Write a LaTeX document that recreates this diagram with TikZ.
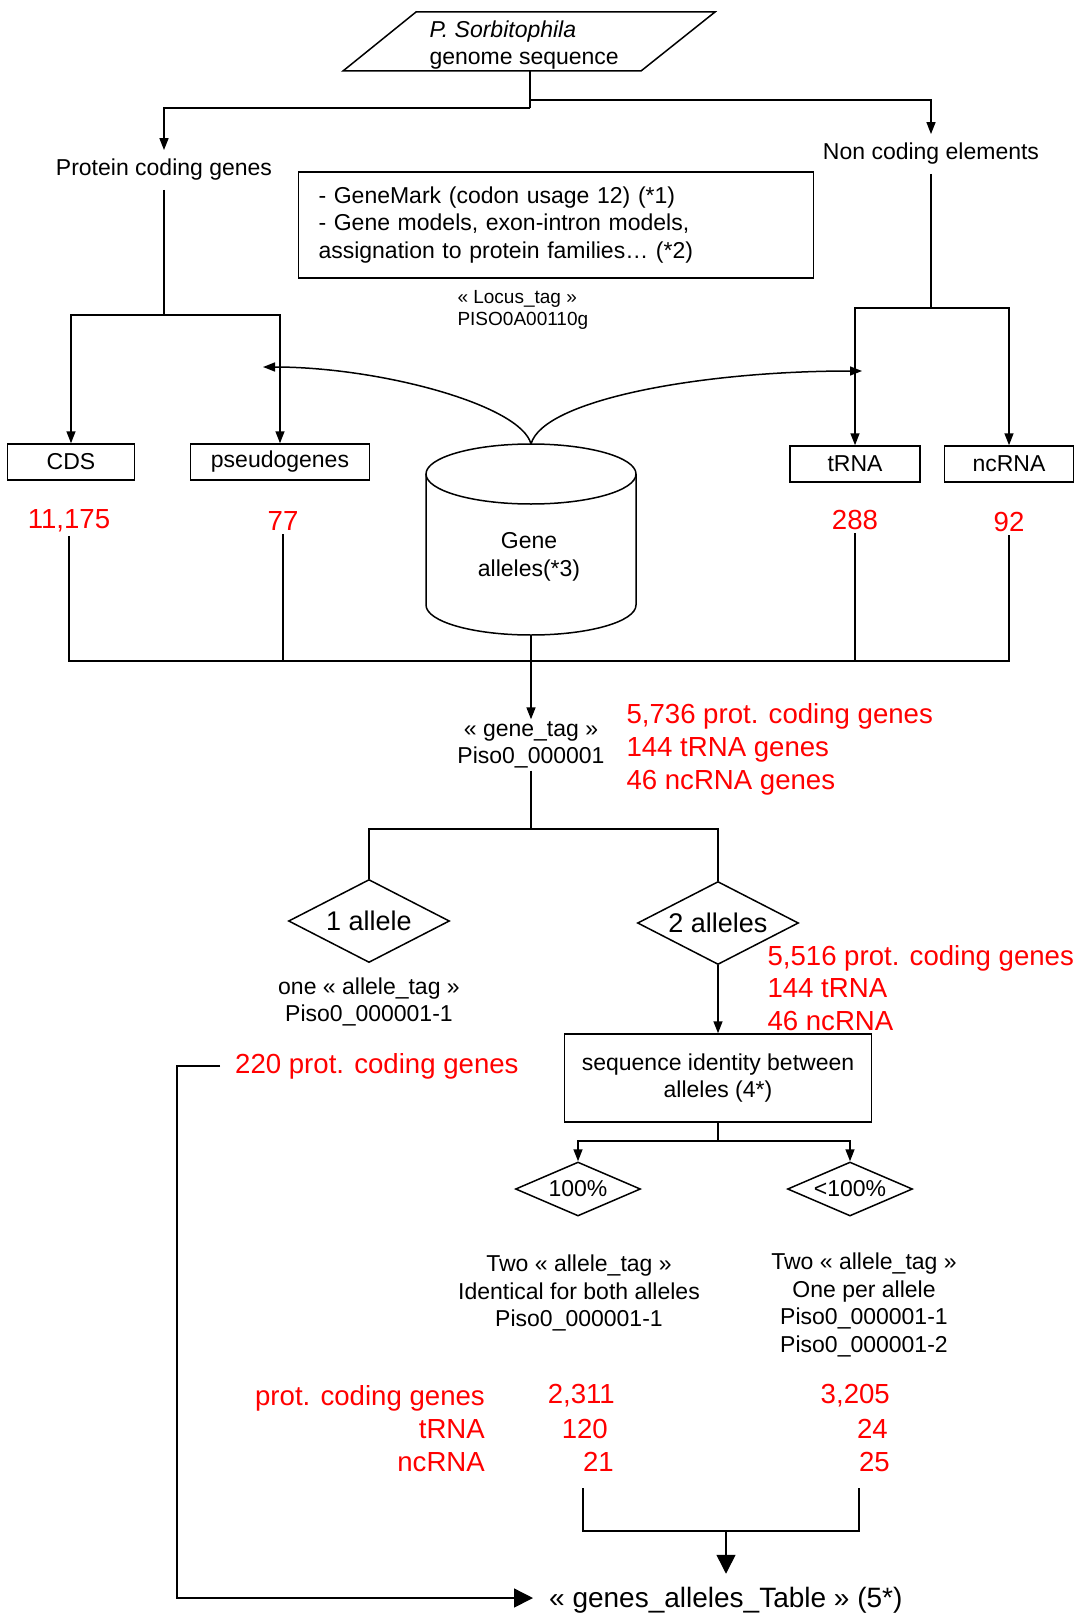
\documentclass[tikz,border=0pt]{standalone}
\usepackage{fontspec}
\setmainfont{Liberation Sans}
\usetikzlibrary{arrows.meta, positioning, shapes.geometric}
\tikzset{%
	txt/.style={
		font=\fontsize{23}{27.5}\selectfont,
		align=center
	},
	redtxt/.style={
		font=\fontsize{27.6}{33}\selectfont,
		text=red,
		align=left
	},
	box/.style={txt, draw, rectangle, inner sep=0pt, line width=1.5pt},
	choice/.style={txt, draw, diamond, inner sep=0pt, line width=1.5pt},
	link/.style={line width=1.5pt},
	arr/.style={line width=1.5pt, -{Triangle[length=12pt,width=9pt]}},
	bigarr/.style={line width=1.5pt, -{Triangle[length=19pt,width=19pt]}},
}
\begin{document}
\begin{tikzpicture}[x=1pt, y=-1pt]
	\useasboundingbox (0,0) rectangle (1081,1616);
	
	% genome sequence
	\draw[link] (416,12) -- (715,12) -- (641,71) -- (343,71) -- cycle;
	\node[txt, align=left, anchor=west] (genome) at (426,45) {\textit{P. Sorbitophila}\\genome sequence};
	\coordinate (gbot) at (530,71);
	\coordinate (lsplit) at (530,108);
	\coordinate (rsplit) at (530,100);
	
	\node[txt, inner sep=9pt] (prot) at (164,170) {Protein coding genes};
	\node[txt, inner sep=9pt] (noncod) at (931,154) {Non coding elements};
	\draw[link] (gbot) -- (lsplit);
	\draw[arr] (lsplit) -| (prot.north);
	\draw[arr] (rsplit) -| (noncod.north);
	
	% annotation tools
	\node[box, align=left, text width=475pt, minimum height=106pt, inner xsep=20pt] (tools) at (556,225) {- GeneMark (codon usage 12) (*1)\\- Gene models, exon-intron models,\\assignation to protein families… (*2)};
	\node[txt, font=\fontsize{19}{22}\selectfont, align=left, anchor=west] (locus) at (454,310) {«~Locus\_tag~»\\PISO0A00110g};
	
	% protein coding branch
	\coordinate (pcsplit) at (164,315);
	\node[box, minimum width=127pt, minimum height=36pt] (cds) at (71,462) {CDS};
	\node[box, minimum width=179pt, minimum height=36pt] (pseudo) at (280,462) {pseudogenes};
	\draw[link] (prot.south) -- (pcsplit);
	\draw[arr] (pcsplit) -| (cds.north);
	\draw[arr] (pcsplit) -| (pseudo.north);
	
	% non coding branch
	\coordinate (ncsplit) at (931,308);
	\node[box, minimum width=130pt, minimum height=36pt] (trna) at (855,464) {tRNA};
	\node[box, minimum width=129pt, minimum height=36pt] (ncrna) at (1009,464) {ncRNA};
	\draw[link] (noncod.south) -- (ncsplit);
	\draw[arr] (ncsplit) -| (trna.north);
	\draw[arr] (ncsplit) -| (ncrna.north);
	
	% allele database
	\draw[link] (426,474) -- (426,605) arc[start angle=180, end angle=0, x radius=105, y radius=30] -- (636,474);
	\draw[link] (531,474) ellipse [x radius=105, y radius=30];
	\node[txt] (db) at (529,557) {Gene\\alleles(*3)};
	\coordinate (dbtop) at (531,444);
	\coordinate (dbbot) at (531,635);
	\coordinate (lhit) at (263,367);
	\coordinate (rhit) at (862,371);
	\draw[arr] (dbtop) .. controls (521,405) and (380,367) .. (lhit);
	\draw[arr] (dbtop) .. controls (543,400) and (700,371) .. (rhit);
	
	% counts
	\node[redtxt] (ncds) at (69,521) {11,175};
	\node[redtxt] (npseudo) at (283,521) {77};
	\node[redtxt] (ntrna) at (855,520) {288};
	\node[redtxt] (nncrna) at (1009,522) {92};
	\coordinate (merge) at (531,661);
	\draw[link] (ncds.south) |- (merge) -| (nncrna.south);
	\draw[link] (npseudo.south) -- (npseudo.south |- merge);
	\draw[link] (ntrna.south) -- (ntrna.south |- merge);
	\draw[link] (dbbot) -- (merge);
	
	% gene tag
	\node[txt, inner sep=2pt] (genetag) at (531,745) {«~gene\_tag~»\\Piso0\_000001};
	\draw[arr] (merge) -- (genetag.north);
	\node[redtxt, anchor=west] (genecount) at (623,749) {5,736 prot. coding genes\\144 tRNA genes\\46 ncRNA genes};
	
	% one or two alleles
	\coordinate (asplit) at (531,829);
	\node[choice, font=\fontsize{27}{32}\selectfont, aspect=1.95, minimum width=161pt, minimum height=83pt] (one) at (369,921) {1 allele};
	\node[choice, font=\fontsize{27}{32}\selectfont, aspect=1.95, minimum width=161pt, minimum height=83pt] (two) at (718,923) {2 alleles};
	\draw[link] (genetag.south) -- (asplit);
	\draw[link] (asplit) -| (one.north);
	\draw[link] (asplit) -| (two.north);
	\node[txt] (onetag) at (369,1002) {one «~allele\_tag~»\\Piso0\_000001-1};
	\node[redtxt, font=\fontsize{27.6}{32.5}\selectfont, anchor=west] (twocount) at (764,988) {5,516 prot. coding genes\\144 tRNA\\46 ncRNA};
	
	\node[box, minimum width=307pt, minimum height=88pt] (ident) at (718,1078) {sequence identity between\\alleles (4*)};
	\draw[arr] (two.south) -- (ident.north);
	
	% single allele genes go straight to the table
	\node[redtxt, anchor=west, inner xsep=15pt] (single) at (220,1066) {220 prot. coding genes};
	\node[txt, font=\fontsize{28}{32}\selectfont, anchor=west, inner xsep=16pt, inner ysep=13pt] (table) at (533,1600) {«~genes\_alleles\_Table~» (5*)};
	\coordinate (bend) at (177,1598);
	\draw[bigarr] (single.west) -| (bend) -- (bend -| table.west);
	
	% identity split
	\coordinate (isplit) at (718,1141);
	\node[choice, aspect=2.3, minimum width=125pt, minimum height=54pt] (same) at (578,1189) {100\%};
	\node[choice, aspect=2.3, minimum width=125pt, minimum height=54pt] (diff) at (850,1189) {<100\%};
	\draw[link] (ident.south) -- (isplit);
	\draw[arr] (isplit) -| (same.north);
	\draw[arr] (isplit) -| (diff.north);
	\node[txt] (sametag) at (579,1293) {Two «~allele\_tag~»\\Identical for both alleles\\Piso0\_000001-1};
	\node[txt] (difftag) at (864,1305) {Two «~allele\_tag~»\\One per allele\\Piso0\_000001-1\\Piso0\_000001-2};
	
	% counts per identity class
	\node[redtxt, align=right, anchor=east, inner sep=0pt] (kinds) at (485,1429) {prot. coding genes\\tRNA\\ncRNA};
	\foreach \val/\xx/\yy [count=\i] in {{2,311}/615/1396, 120/608/1429, 21/614/1462}
		\node[redtxt, anchor=east, inner sep=0pt] (samenum\i) at (\xx,\yy) {\val};
	\foreach \val/\xx/\yy [count=\i] in {{3,205}/890/1396, 24/888/1429, 25/890/1462}
		\node[redtxt, anchor=east, inner sep=0pt] (diffnum\i) at (\xx,\yy) {\val};
	
	\coordinate (bl) at (583,1488);
	\coordinate (br) at (859,1488);
	\coordinate (bmid) at (726,1531);
	\draw[link] (bl) |- (bmid) -| (br);
	\draw[bigarr] (bmid) -- (bmid |- table.north);
\end{tikzpicture}
\end{document}
